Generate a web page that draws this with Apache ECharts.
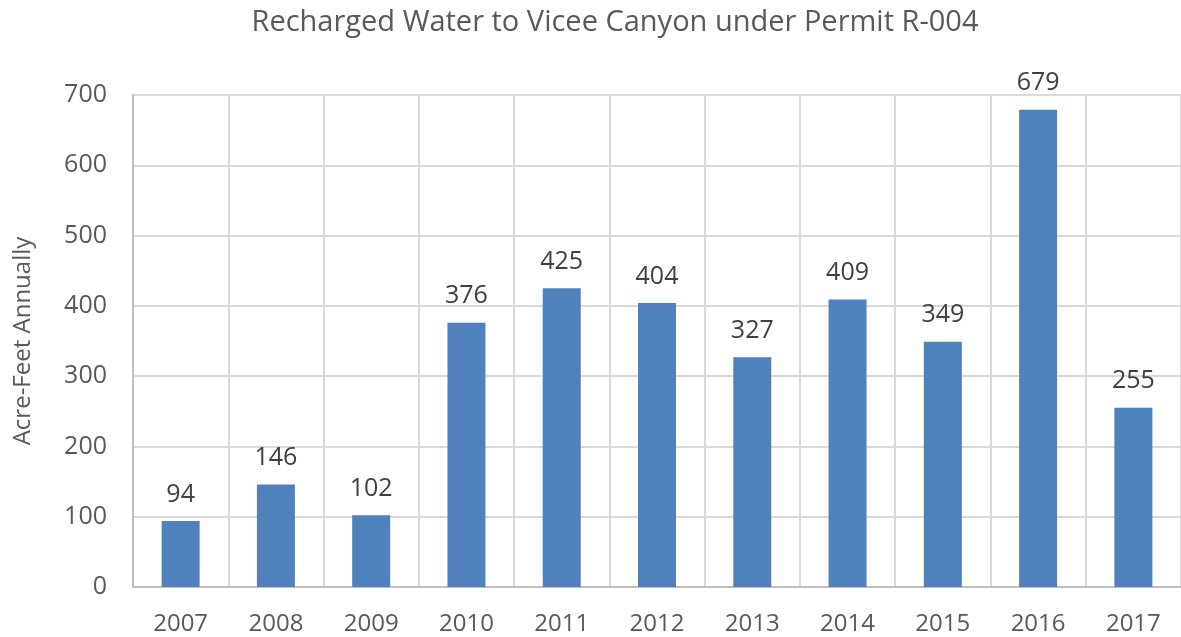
<!DOCTYPE html>
<html>
<head>
<meta charset="utf-8">
<script src="https://cdn.jsdelivr.net/npm/echarts@6/dist/echarts.min.js"></script>
<style>
  html, body { margin: 0; padding: 0; background: #fff; }
  #chart { width: 1181px; height: 637px; }
</style>
</head>
<body>
<div id="chart"></div>
<script>
// Annual recharge volumes (acre-feet)
const years = ['2007', '2008', '2009', '2010', '2011', '2012', '2013', '2014', '2015', '2016', '2017'];
const recharge = [94, 146, 102, 376, 425, 404, 327, 409, 349, 679, 255];
const yTicks = { min: 0, max: 700, interval: 100 };

const FONT = '"Open Sans", "Liberation Sans", sans-serif';
const chart = echarts.init(document.getElementById('chart'), null, { renderer: 'canvas' });

chart.setOption({
  animation: false,
  backgroundColor: '#ffffff',
  title: {
    text: 'Recharged Water to Vicee Canyon under Permit R-004',
    left: 610,
    textAlign: 'center',
    top: 3,
    textStyle: { fontFamily: FONT, fontSize: 29, fontWeight: 'normal', color: '#595959' }
  },
  grid: { left: 133, top: 95, width: 1053, height: 492, containLabel: false },
  xAxis: {
    type: 'category',
    data: years,
    axisLine: { show: true, lineStyle: { color: '#bfbfbf', width: 2 } },
    axisTick: { show: false },
    splitLine: { show: true, lineStyle: { color: '#d9d9d9', width: 2 } },
    axisLabel: { fontFamily: FONT, fontSize: 24, color: '#595959', margin: 25 }
  },
  yAxis: {
    type: 'value',
    min: yTicks.min,
    max: yTicks.max,
    interval: yTicks.interval,
    name: 'Acre-Feet Annually',
    nameLocation: 'middle',
    nameGap: 98,
    nameTextStyle: { fontFamily: FONT, fontSize: 24, color: '#595959' },
    axisLine: { show: true, lineStyle: { color: '#bfbfbf', width: 2 } },
    axisTick: { show: false },
    splitLine: { show: true, lineStyle: { color: '#d9d9d9', width: 2 } },
    axisLabel: { fontFamily: FONT, fontSize: 25, color: '#595959', margin: 26 }
  },
  series: [{
    type: 'bar',
    data: recharge,
    barWidth: 38,
    itemStyle: { color: '#4f81bd' },
    label: {
      show: true,
      position: 'top',
      distance: 14,
      fontFamily: FONT,
      fontSize: 25,
      color: '#404040'
    }
  }]
});
</script>
</body>
</html>
